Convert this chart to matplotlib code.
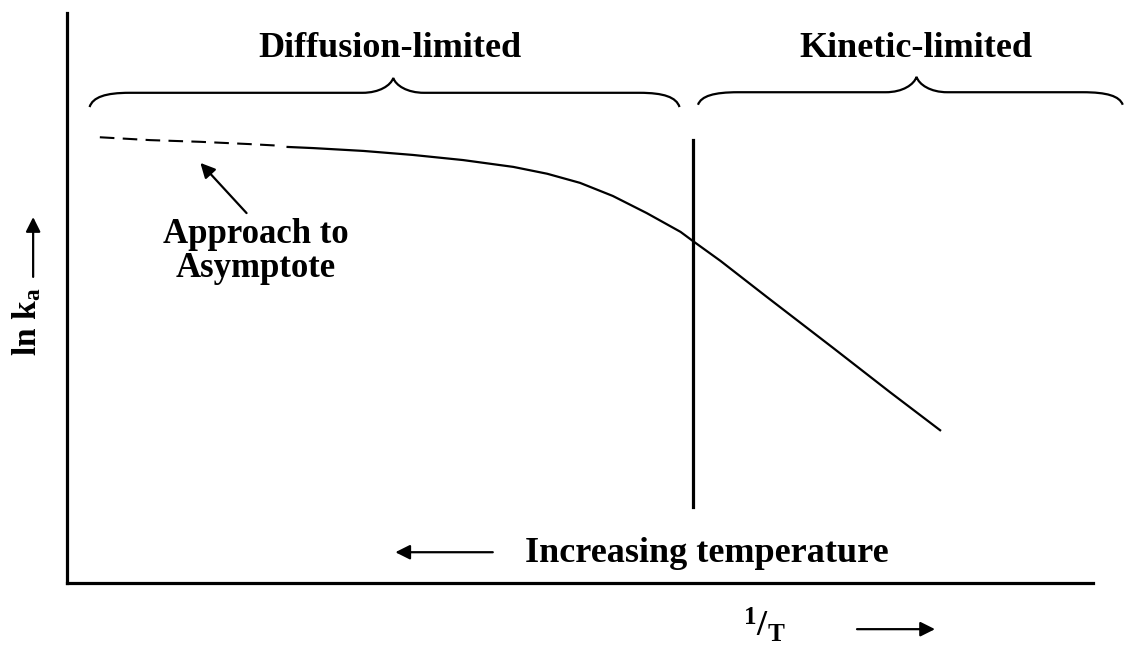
import matplotlib
matplotlib.use('Agg')
import matplotlib.pyplot as plt
from matplotlib.path import Path
from matplotlib.patches import PathPatch
import numpy as np

plt.rcParams['font.family'] = ['Liberation Serif', 'DejaVu Serif']
plt.rcParams['font.weight'] = 'bold'
plt.rcParams['mathtext.fontset'] = 'custom'
plt.rcParams['mathtext.rm'] = 'Liberation Serif:bold'
plt.rcParams['mathtext.bf'] = 'Liberation Serif:bold'
plt.rcParams['mathtext.it'] = 'Liberation Serif:bold'

# schematic ln k vs 1/T curve (arbitrary units)
dash_x = [0.32, 0.81, 1.30, 1.78, 2.09]
dash_y = [7.82, 7.77, 7.74, 7.70, 7.67]
solid_x = [2.15, 2.40, 2.89, 3.37, 3.86, 4.35, 4.68, 5.00, 5.32, 5.65, 5.98,
           6.10, 6.37, 6.82, 7.47, 8.02, 8.51]
solid_y = [7.65, 7.63, 7.58, 7.51, 7.42, 7.30, 7.18, 7.02, 6.79, 6.49, 6.16,
           6.00, 5.65, 5.02, 4.12, 3.35, 2.68]

# regime boundary
split_x = 6.10
split_y = [1.33, 7.77]

# braces: (left end, centre, right end, end y, flat y, cusp y)
braces = [(0.22, 3.18, 5.97, 8.35, 8.60, 8.86),
          (6.15, 8.28, 10.29, 8.39, 8.61, 8.88)]
regime_labels = ['Diffusion-limited', 'Kinetic-limited']
label_x = [3.15, 8.27]
label_y = 9.23


def brace_path(x0, xc, x1, y_end, y_flat, y_cusp, r=0.39, rc=0.30):
    h = y_flat - y_end
    verts = [(x0, y_end),
             (x0 + 0.08 * r, y_end + 0.7 * h), (x0 + 0.4 * r, y_flat), (x0 + r, y_flat),
             (xc - rc, y_flat),
             (xc - 0.45 * rc, y_flat), (xc - 0.08 * rc, y_flat + 0.5 * (y_cusp - y_flat)), (xc, y_cusp),
             (xc + 0.08 * rc, y_flat + 0.5 * (y_cusp - y_flat)), (xc + 0.45 * rc, y_flat), (xc + rc, y_flat),
             (x1 - r, y_flat),
             (x1 - 0.4 * r, y_flat), (x1 - 0.08 * r, y_end + 0.7 * h), (x1, y_end)]
    codes = [Path.MOVETO] + [Path.CURVE4] * 3 + [Path.LINETO] + [Path.CURVE4] * 6 + \
            [Path.LINETO] + [Path.CURVE4] * 3
    return Path(verts, codes)


fig = plt.figure(figsize=(11.28, 6.47), dpi=100)
ax = fig.add_axes([67 / 1128, 64 / 647, 1026 / 1128, 570 / 647])
ax.set_xlim(0, 10)
ax.set_ylim(0, 10)
ax.set_xticks([])
ax.set_yticks([])
for s in ['top', 'right']:
    ax.spines[s].set_visible(False)
for s in ['left', 'bottom']:
    ax.spines[s].set_linewidth(2.3)

ax.plot(dash_x, dash_y, color='black', lw=1.5, ls=(0, (7, 4)), clip_on=False)
ax.plot(solid_x, solid_y, color='black', lw=1.6, clip_on=False, solid_joinstyle='round')
ax.plot([split_x, split_x], split_y, color='black', lw=2.3)

for (x0, xc, x1, ye, yf, yc), lab, lx in zip(braces, regime_labels, label_x):
    ax.add_patch(PathPatch(brace_path(x0, xc, x1, ye, yf, yc), fc='none', ec='black',
                           lw=1.6, clip_on=False))
    ax.text(lx, label_y, lab, ha='center', va='baseline', fontsize=26, fontweight='bold')

arrow = dict(arrowstyle='-|>', color='black', lw=1.6, mutation_scale=22, shrinkA=0, shrinkB=0)

ax.text(1.84, 5.96, 'Approach to', ha='center', va='baseline', fontsize=25, fontweight='bold')
ax.text(1.84, 5.37, 'Asymptote', ha='center', va='baseline', fontsize=25, fontweight='bold')
ax.annotate('', xy=(1.30, 7.37), xytext=(1.75, 6.49), arrowprops=arrow)

ax.text(4.46, 0.37, 'Increasing temperature', ha='left', va='baseline', fontsize=26,
        fontweight='bold')
ax.annotate('', xy=(3.20, 0.54), xytext=(4.15, 0.54), arrowprops=arrow)

ax.text(6.80, -0.74, r'$^{\mathbf{1}}\mathbf{/}_{\mathbf{T}}$', ha='center', va='center',
        fontsize=26, clip_on=False)
ax.annotate('', xy=(8.46, -0.81), xytext=(7.70, -0.81), arrowprops=arrow, annotation_clip=False)

ax.text(-0.39, 4.58, r'ln k$_{\mathbf{a}}$', ha='center', va='center', rotation=90,
        fontsize=24, fontweight='bold', clip_on=False)
ax.annotate('', xy=(-0.33, 6.42), xytext=(-0.33, 5.37), arrowprops=arrow, annotation_clip=False)

fig.savefig('out.png', dpi=100)
